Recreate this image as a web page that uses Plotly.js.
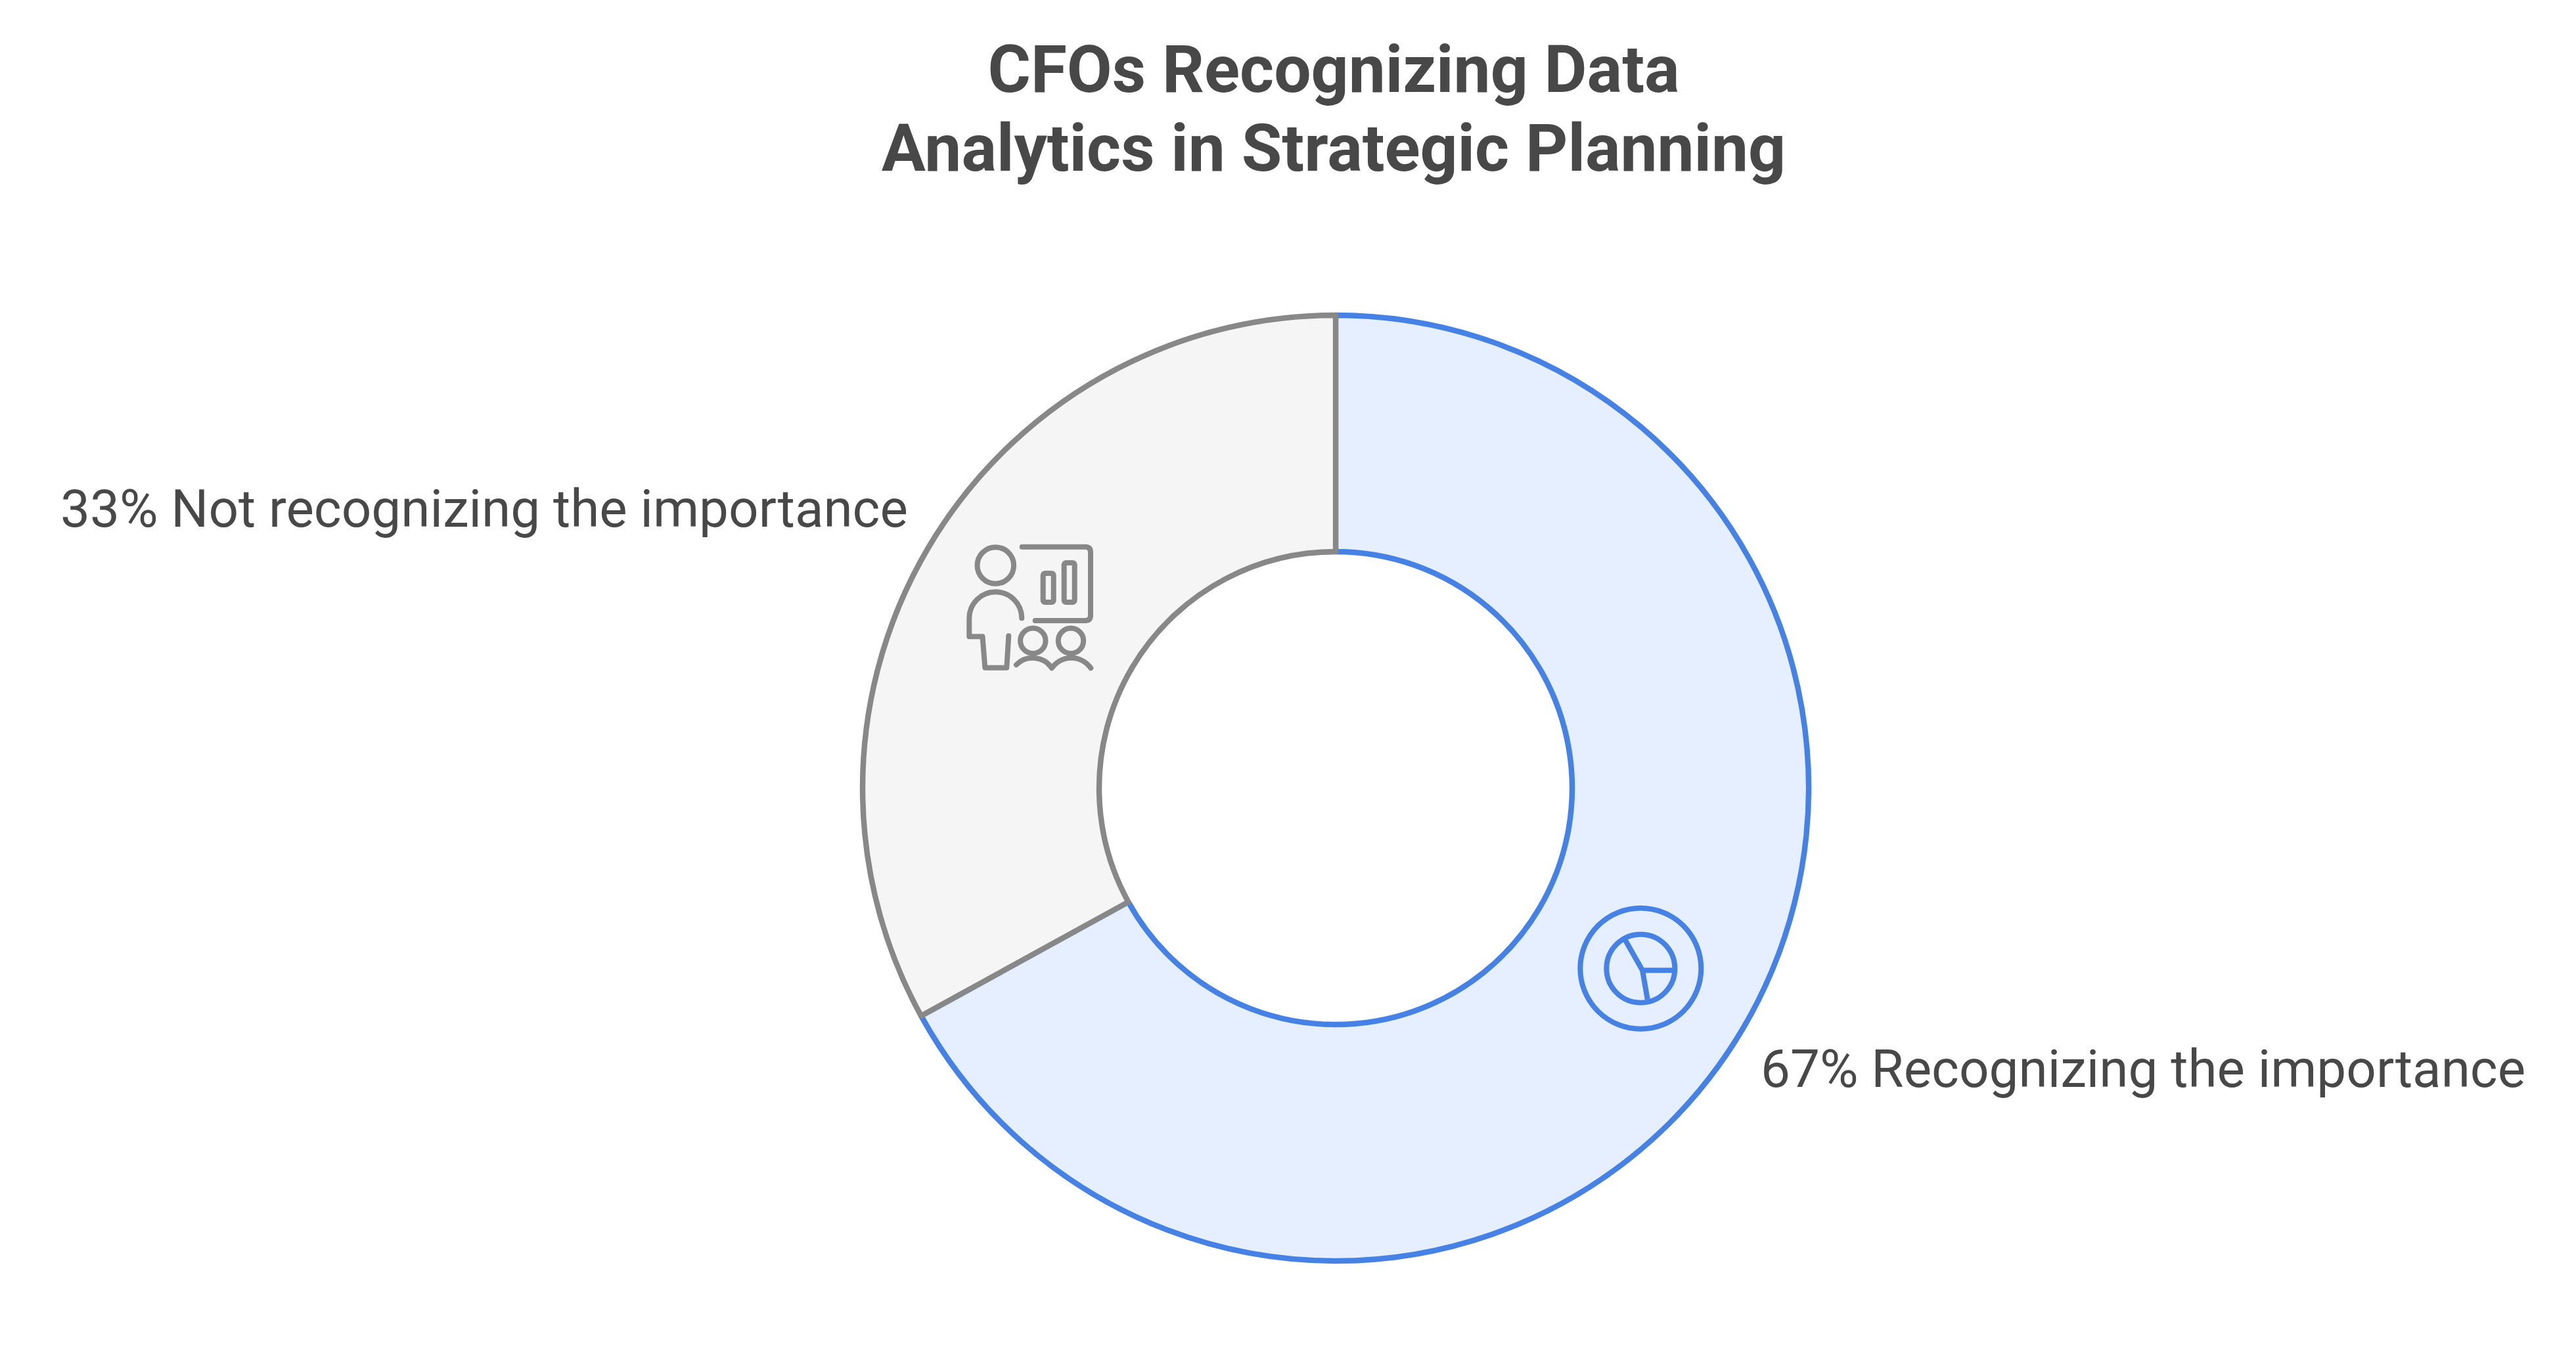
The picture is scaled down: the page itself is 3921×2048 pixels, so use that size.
<!DOCTYPE html>
<html>
<head>
<meta charset="utf-8">
<script src="https://cdn.plot.ly/plotly-3.0.1.min.js"></script>
<style>html,body{margin:0;padding:0;background:#fff}#chart{width:3921px;height:2048px}</style>
</head>
<body>
<div id="chart"></div>
<script>
const categories = ["Recognizing the importance", "Not recognizing the importance"];
const values = [67, 33];
const fillColors = ["#E5EFFF", "#F5F5F5"];
const lineColors = ["#4682E6", "#888888"];
const titleText = "CFOs Recognizing Data<br>Analytics in Strategic Planning";
const textColor = "#484848";

const W = 3921, H = 2048;
const cx = 2033, cy = 1200, R = 720;

const svgUri = (w, h, body) => "data:image/svg+xml;base64," + btoa(
  `<svg xmlns="http://www.w3.org/2000/svg" width="${w}" height="${h}" viewBox="0 0 ${w} ${h}">${body}</svg>`);

const peopleIcon = svgUri(320, 300, `<g fill="none" stroke="${lineColors[1]}" stroke-width="8" stroke-linecap="round" stroke-linejoin="round">
<circle cx="115.3" cy="81" r="27.8"/>
<path d="M155.7 52.7H252Q260 52.7 260 61V157Q260 165 252 165H175.7"/>
<rect x="187.7" y="93" width="16" height="44" rx="3"/>
<rect x="219.7" y="77" width="16" height="60" rx="3"/>
<path d="M155.3 161.3A40 40 0 0 0 75.3 161.3V189.3H95.5L99.3 236.7H132.3L135.3 188.3"/>
<circle cx="172.3" cy="195.7" r="19.2"/>
<circle cx="230" cy="195.7" r="19.2"/>
<path d="M147 232.3A35 35 0 0 1 201 237.3A36 36 0 0 1 260.3 237.3"/>
</g>`);

const pieIcon = svgUri(260, 260, `<g fill="none" stroke="${lineColors[0]}" stroke-width="8" stroke-linejoin="round">
<circle cx="137.3" cy="134.7" r="92"/>
<circle cx="137.3" cy="134.7" r="52"/>
<path d="M114 91.7L140 137.5H185.7"/>
<path d="M140 137.5L147.7 181.7"/>
</g>`);

const iconImage = (source, x, y, w, h) => ({
  source, xref: "paper", yref: "paper", x: x / W, y: 1 - y / H,
  sizex: w / W, sizey: h / H, xanchor: "left", yanchor: "top",
  sizing: "stretch", layer: "above"
});

const label = (i, x, y) => ({
  text: values[i] + "% " + categories[i], xref: "paper", yref: "paper",
  x: x / W, y: 1 - y / H, xanchor: "left", yanchor: "middle", showarrow: false,
  font: {family: "Roboto", size: 80, color: textColor}
});

Plotly.newPlot("chart", [{
  type: "pie", labels: categories, values: values, sort: false,
  direction: "clockwise", rotation: 0, hole: 0.5, textinfo: "none",
  hoverinfo: "skip", showlegend: false,
  marker: {colors: fillColors, line: {color: lineColors, width: 8.4}},
  domain: {x: [(cx - R) / W, (cx + R) / W], y: [1 - (cy + R) / H, 1 - (cy - R) / H]}
}], {
  width: W, height: H, margin: {l: 0, r: 0, t: 0, b: 0},
  paper_bgcolor: "#fff", showlegend: false,
  title: {
    text: titleText, x: 2030 / W, xanchor: "center", xref: "paper",
    y: 1 - 140 / H, yanchor: "top", yref: "container",
    font: {family: "Roboto", size: 100, weight: 700, color: textColor}
  },
  annotations: [label(0, 2677.5, 1628), label(1, 89.5, 775)],
  images: [iconImage(peopleIcon, 1400, 780, 320, 300), iconImage(pieIcon, 2360, 1340, 260, 260)]
}, {displayModeBar: false, staticPlot: true}).then(() => {
  const text = document.querySelector(".gtitle");
  const lines = text ? text.querySelectorAll("tspan.line") : [];
  if (lines.length === 2) {
    text.removeAttribute("dy");
    text.removeAttribute("transform");
    [140, 260].forEach((y, i) => {
      lines[i].removeAttribute("dy");
      lines[i].setAttribute("y", y);
    });
  }
});
</script>
</body>
</html>
